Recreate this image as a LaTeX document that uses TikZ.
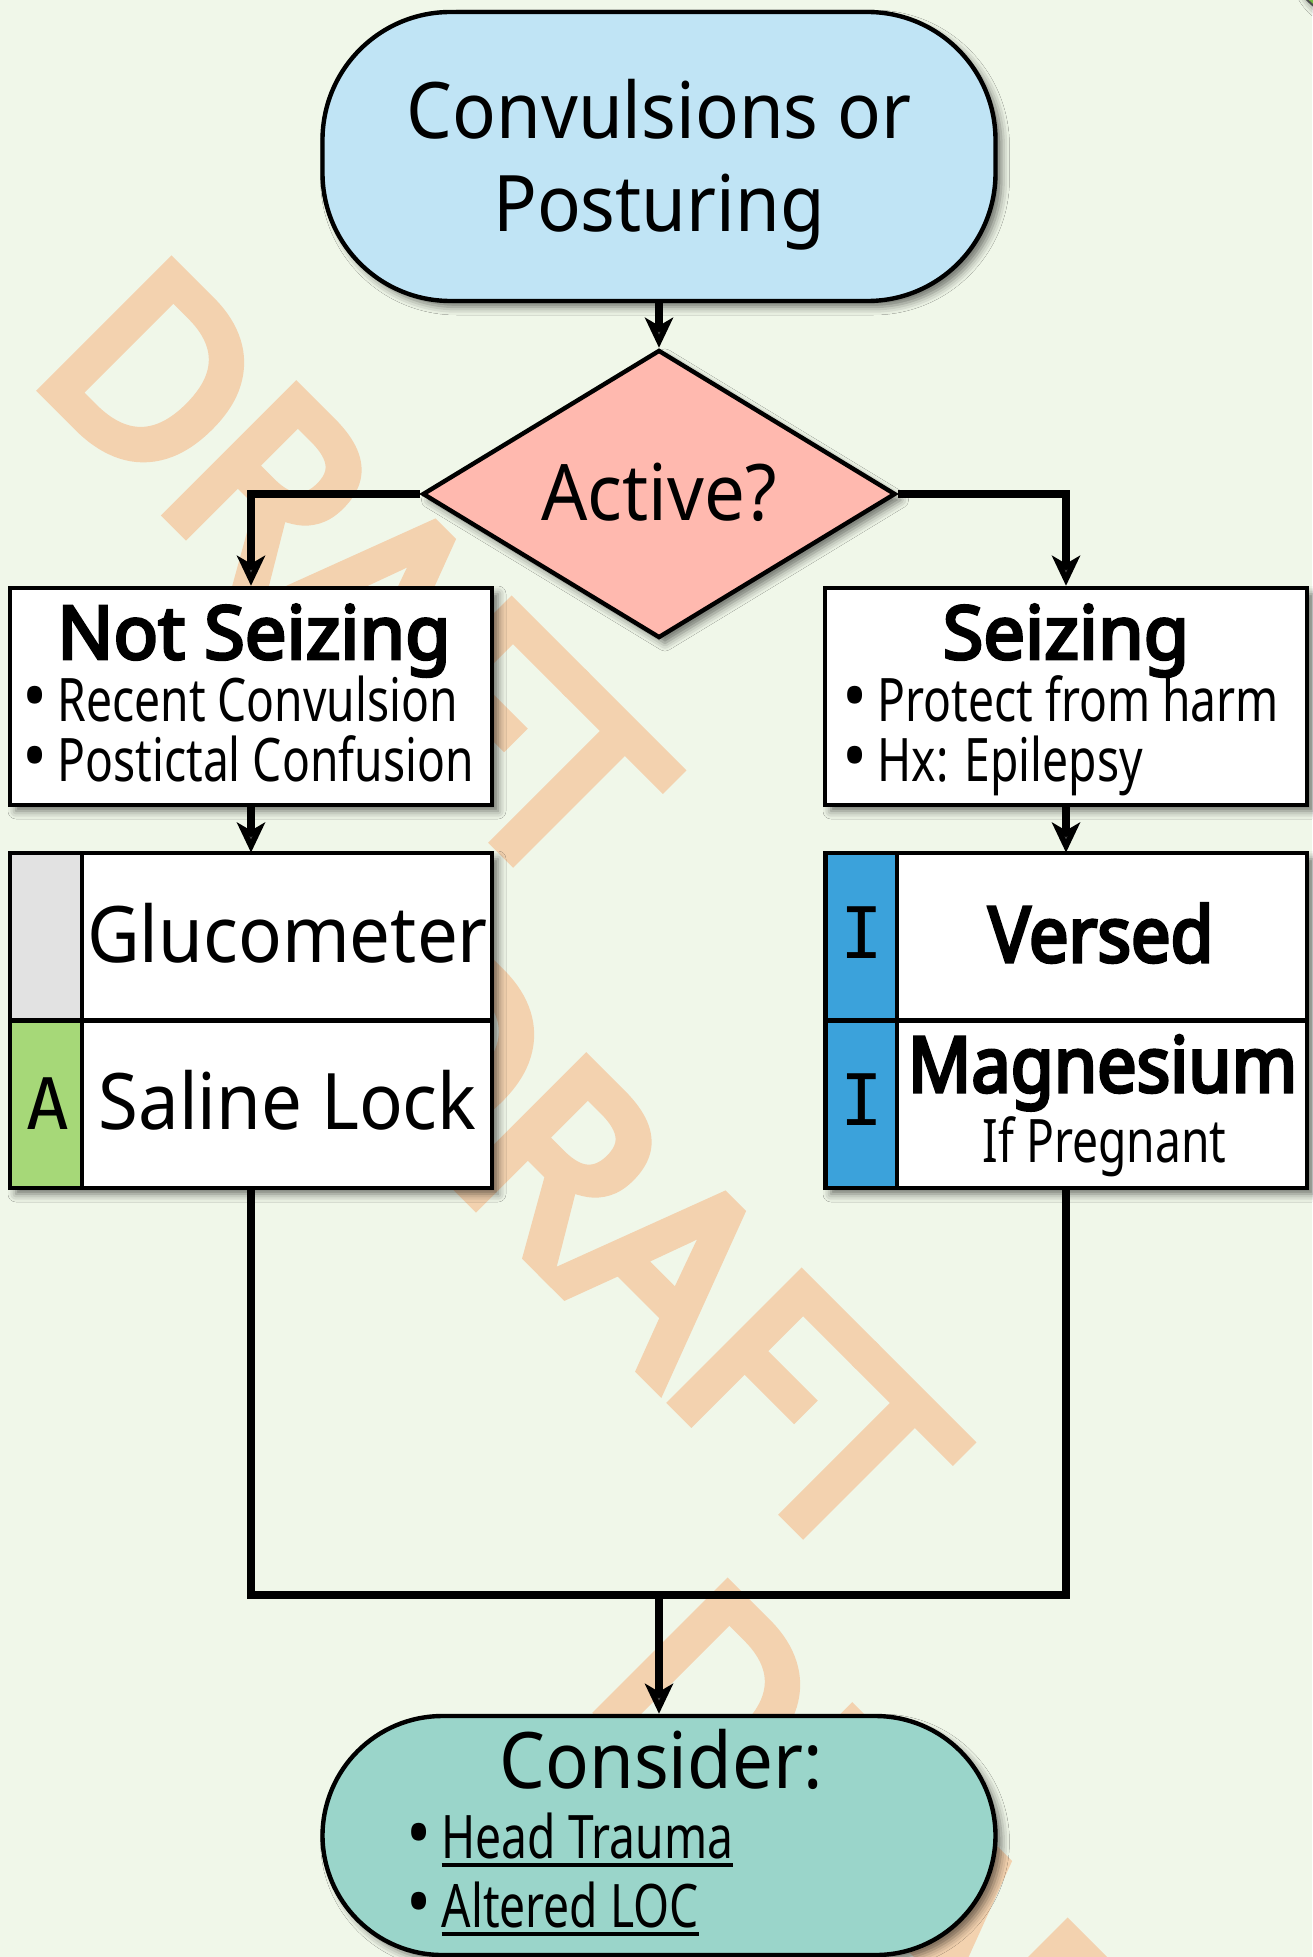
\documentclass[tikz,border=0pt]{standalone}
\usepackage{fontspec}
\setmainfont{Noto Sans}
\newfontfamily\bigfont[FakeStretch=0.93]{Noto Sans}
\newfontfamily\narrowfont[FakeStretch=0.77]{Noto Sans}
\newfontfamily\headfont[FakeStretch=1.0, AutoFakeBold=4]{Noto Sans}
\newfontfamily\drugfont[FakeStretch=0.91, AutoFakeBold=4]{Noto Sans}
\newfontfamily\stampfont[FakeStretch=0.97, AutoFakeBold=5.5]{Noto Sans}
\newfontfamily\tagfont{DejaVu Sans Mono}
\usetikzlibrary{arrows.meta, shapes.geometric, shadows.blur}

\definecolor{pagegreen}{RGB}{240,247,233}
\definecolor{startblue}{RGB}{192,228,245}
\definecolor{activepink}{RGB}{255,185,175}
\definecolor{considerteal}{RGB}{154,213,202}
\definecolor{taggrey}{RGB}{226,226,226}
\definecolor{taggreen}{RGB}{166,216,120}
\definecolor{tagblue}{RGB}{59,162,219}
\definecolor{stamporange}{RGB}{243,210,175}
\definecolor{cornergreen}{RGB}{118,186,68}

\newcommand{\linkline}[1]{\setbox0\hbox{#1}\rlap{\rule[-4.3pt]{\wd0}{1.6pt}}\box0}
\newcommand{\dotmark}{{\bigfont\fontsize{36}{36}\selectfont•}\hspace{5pt}}

\begin{document}
\begin{tikzpicture}[x=0.5pt, y=-0.5pt,
	boxshadow/.style={blur shadow={shadow xshift=3pt, shadow yshift=-3pt, shadow blur radius=4pt, shadow opacity=55}},
	terminal/.style={draw, line width=2.2pt, minimum width=336.5pt, boxshadow},
	decision/.style={diamond, draw, fill=activepink, line width=2.2pt, inner sep=0pt, minimum width=236.5pt, minimum height=144pt, boxshadow},
	infobox/.style={draw, fill=white, line width=2.2pt, minimum width=241pt, minimum height=108.5pt, boxshadow},
	tablebox/.style={fill=white, minimum width=241pt, minimum height=167.5pt, boxshadow},
	tagcell/.style={draw, line width=2.2pt, minimum width=36pt, minimum height=83.75pt},
	itemcell/.style={draw, fill=white, line width=2.2pt, minimum width=205pt, minimum height=83.75pt},
	flow/.style={line width=3.6pt, -{Stealth[length=15pt, width=14pt, inset=4pt]}},
	link/.style={line width=3.6pt},
	txt/.style={anchor=base, inner sep=0pt},
	bigtxt/.style={txt, font=\bigfont\fontsize{39}{39}\selectfont},
	headtxt/.style={txt, font=\headfont\bfseries\fontsize{37}{37}\selectfont},
	drugtxt/.style={txt, font=\drugfont\bfseries\fontsize{38.5}{38.5}\selectfont},
	smalltxt/.style={txt, font=\narrowfont\fontsize{30}{30}\selectfont},
	tagtxt/.style={txt, font=\tagfont\fontsize{35.5}{35.5}\selectfont},
	stamp/.style={anchor=base west, inner sep=0pt, rotate=-45, text=stamporange, font=\stampfont\bfseries\fontsize{124.5}{124.5}\selectfont}
]
	\fill[pagegreen] (0,0) rectangle (1312,1957);
	\useasboundingbox (0,0) rectangle (1312,1957);

	\foreach \sx/\sy [count=\i] in {29/374, 319/1046, 585/1696}
		\node[stamp] (draft\i) at (\sx,\sy) {DRAFT};

	\filldraw[fill=cornergreen, draw=black!70, line width=1pt, boxshadow] (1347,-38) circle (55);

	\node[terminal, fill=startblue, rounded corners=64pt, minimum height=144.5pt] (start) at (659,156.5) {};
	\node[decision] (active) at (659,494) {};

	\node[infobox] (notseiz) at (251,696.5) {};
	\node[infobox] (seiz) at (1066,696.5) {};

	\node[tablebox] (lefttab) at (251,1020.5) {};
	\node[tagcell, fill=taggrey] (glutag) at (46,936.75) {};
	\node[itemcell] (glucell) at (287,936.75) {};
	\node[tagcell, fill=taggreen] (saltag) at (46,1104.25) {};
	\node[itemcell] (salcell) at (287,1104.25) {};

	\node[tablebox] (righttab) at (1066,1020.5) {};
	\node[tagcell, fill=tagblue] (vertag) at (861.5,936.75) {};
	\node[itemcell] (vercell) at (1102,936.75) {};
	\node[tagcell, fill=tagblue] (magtag) at (861.5,1104.25) {};
	\node[itemcell] (magcell) at (1102,1104.25) {};

	\coordinate (merge) at (659,1595);
	\node[terminal, fill=considerteal, rounded corners=60pt, minimum height=119.5pt] (consider) at (659,1835.5) {};

	\draw[flow] (start) -- (active);
	\draw[flow] (active.west) -| (notseiz.north);
	\draw[flow] (active.east) -| (seiz.north);
	\draw[flow] (notseiz) -- (lefttab);
	\draw[flow] (seiz) -- (righttab);
	\draw[link] (lefttab.south) |- (merge) -| (righttab.south);
	\draw[flow] (merge) -- (consider);

	\node[bigtxt] (start-a) at (659,139) {Convulsions or};
	\node[bigtxt] (start-b) at (659,232) {Posturing};
	\node[bigtxt] (active-q) at (659,520) {Active?};

	\node[headtxt] (notseiz-head) at (254,659) {Not Seizing};
	\node[smalltxt, anchor=base west] (notseiz-a) at (22,721) {\dotmark Recent Convulsion};
	\node[smalltxt, anchor=base west] (notseiz-b) at (22,781) {\dotmark Postictal Confusion};

	\node[headtxt] (seiz-head) at (1066,659) {Seizing};
	\node[smalltxt, anchor=base west] (seiz-a) at (842,721) {\dotmark Protect from harm};
	\node[smalltxt, anchor=base west] (seiz-b) at (842,781) {\dotmark Hx: Epilepsy};

	\node[bigtxt] (glu-txt) at (287.5,962) {Glucometer};
	\node[tagtxt] (sal-tag) at (48,1129) {A};
	\node[bigtxt] (sal-txt) at (287.5,1129) {Saline Lock};

	\node[tagtxt] (ver-tag) at (862,958) {I};
	\node[drugtxt] (ver-txt) at (1101,962) {Versed};
	\node[tagtxt] (mag-tag) at (862,1125) {I};
	\node[drugtxt] (mag-txt) at (1102.5,1092) {Magnesium};
	\node[smalltxt] (mag-note) at (1104.5,1162) {If Pregnant};

	\node[bigtxt] (consider-head) at (661,1788) {Consider:};
	\node[smalltxt, anchor=base west] (consider-a) at (406,1858) {\dotmark\linkline{Head Trauma}};
	\node[smalltxt, anchor=base west] (consider-b) at (406,1927) {\dotmark\linkline{Altered LOC}};
\end{tikzpicture}
\end{document}
